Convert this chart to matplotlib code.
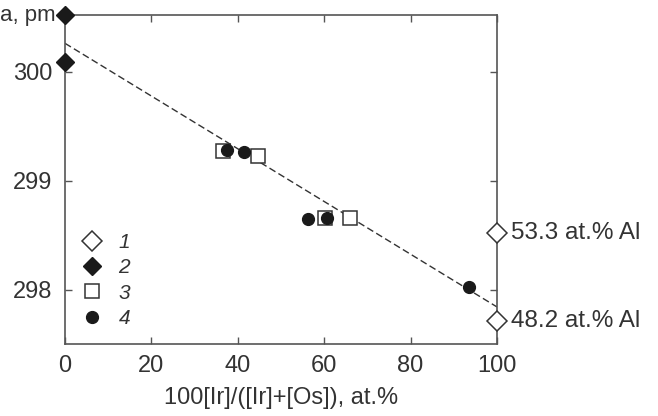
import numpy as np
import matplotlib.pyplot as plt

# series 1: open diamonds (Ir-Al binary, two Al contents)
x1 = [100, 100]
y1 = [298.52, 297.71]
labels1 = ['53.3 at.% Al', '48.2 at.% Al']
# series 2: filled diamonds (Os-Al)
x2 = [0, 0]
y2 = [300.52, 300.09]
# series 3: open squares
x3 = [36.5, 44.6, 60.2, 66.0]
y3 = [299.27, 299.23, 298.66, 298.66]
# series 4: filled circles
x4 = [37.6, 41.5, 56.2, 60.6, 93.5]
y4 = [299.28, 299.26, 298.65, 298.66, 298.02]
# dashed trend line end points
line_x = [0, 100]
line_y = [300.26, 297.84]

edge = '#555555'
mark = '#1a1a1a'

plt.rcParams['font.family'] = ['Liberation Sans', 'DejaVu Sans']
plt.rcParams['font.size'] = 17

fig = plt.figure(figsize=(6.58, 4.16), dpi=100)
ax = fig.add_axes([65 / 658, 1 - 344 / 416, 432 / 658, 329 / 416])

ax.plot(line_x, line_y, ls=(0, (5, 2.5)), color='#333333', lw=1.0, zorder=1)

ax.plot(x3, y3, 's', ms=10.5, mfc='white', mec='#333333', mew=1.1, ls='none',
        label='3', zorder=2)
ax.plot(x4, y4, 'o', ms=8.5, mfc=mark, mec=mark, ls='none', label='4', zorder=3)
ax.plot(x1, y1, 'D', ms=10.5, mfc='white', mec='#333333', mew=1.1, ls='none',
        label='1', clip_on=False, zorder=4)
ax.plot(x2, y2, 'D', ms=9.5, mfc=mark, mec=mark, ls='none', label='2',
        clip_on=False, zorder=4)

for xv, yv, t in zip(x1, y1, labels1):
    ax.annotate(t, (xv, yv), xytext=(10, 0), textcoords='offset points',
                va='center', ha='left', fontsize=17.5, color='#333333',
                annotation_clip=False)

ax.set_xlim(0, 100)
ax.set_ylim(297.5, 300.52)
ax.set_xticks([0, 20, 40, 60, 80, 100])
ax.set_yticks([298, 299, 300])
ax.tick_params(direction='in', top=True, right=True, length=5, width=1,
               color=edge, labelcolor='#333333')
ax.tick_params(axis='x', pad=8)
ax.tick_params(axis='y', pad=9)
for s in ax.spines.values():
    s.set_color(edge)
    s.set_linewidth(1.2)

ax.set_xlabel('100[Ir]/([Ir]+[Os]), at.%', color='#333333', labelpad=7)
fig.text(56 / 658, 1 - 16 / 416, 'a, pm', ha='right', va='center',
         color='#333333', fontsize=16)

h, l = ax.get_legend_handles_labels()
order = [l.index(k) for k in ['1', '2', '3', '4']]
leg = ax.legend([h[i] for i in order], [l[i] for i in order],
                loc='center left', bbox_to_anchor=(-0.004, 0.193), frameon=False,
                handlelength=1.0, handletextpad=0.75, labelspacing=0.3,
                prop={'style': 'italic', 'size': 15})
for t in leg.get_texts():
    t.set_color('#333333')

fig.savefig('out.png', dpi=100)
